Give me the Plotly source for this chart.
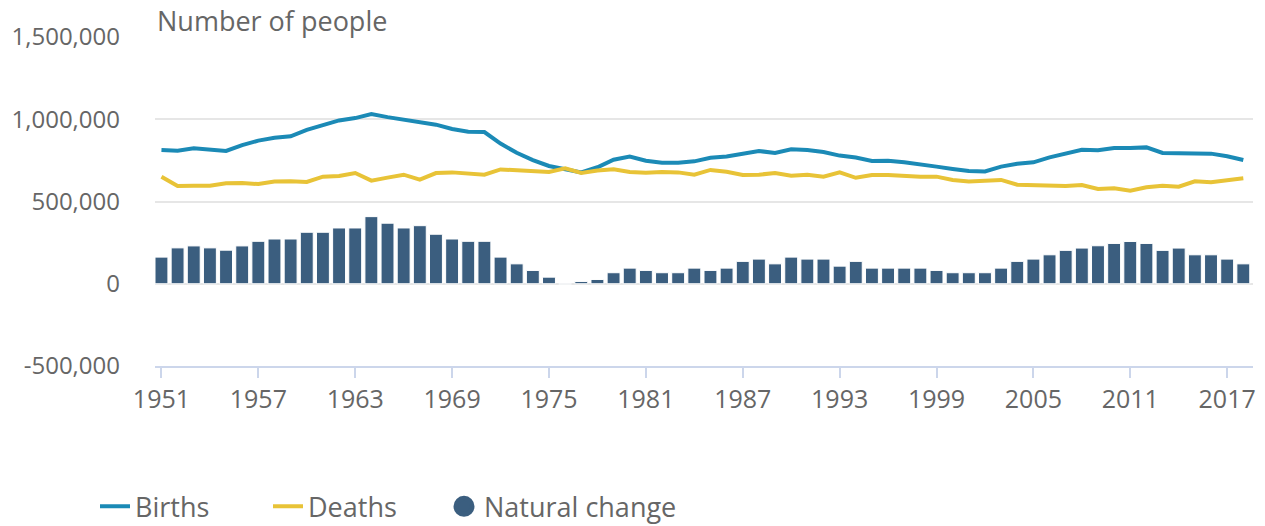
import plotly.graph_objects as go

years = list(range(1951, 2019))

births = [
    813000, 809000, 823000, 813000, 807000, 843000, 870000, 888000, 896000, 935000,
    963000, 993000, 1007000, 1032000, 1013000, 997000, 981000, 967000, 941000, 924000,
    922000, 852000, 796000, 752000, 716000, 698000, 677000, 708000, 754000, 773000,
    748000, 736000, 736000, 744000, 766000, 773000, 793000, 807000, 795000, 817000,
    813000, 801000, 779000, 767000, 746000, 748000, 738000, 728000, 712000, 698000,
    685000, 683000, 712000, 730000, 738000, 768000, 793000, 815000, 811000, 825000,
    825000, 829000, 795000, 793000, 793000, 791000, 775000, 752000,
]

deaths = [
    651000, 594000, 596000, 596000, 611000, 613000, 606000, 621000, 623000, 619000,
    651000, 655000, 673000, 627000, 645000, 663000, 633000, 673000, 677000, 673000,
    663000, 695000, 690000, 686000, 679000, 702000, 673000, 688000, 696000, 679000,
    675000, 679000, 677000, 663000, 692000, 681000, 661000, 663000, 673000, 657000,
    663000, 651000, 677000, 644000, 661000, 661000, 655000, 651000, 651000, 631000,
    621000, 623000, 631000, 602000, 600000, 592000, 594000, 600000, 576000, 580000,
    566000, 586000, 596000, 590000, 623000, 617000, 631000, 641000,
]

natural_change = [
    162000, 218000, 230000, 218000, 204000, 230000, 258000, 272000, 272000, 313000,
    313000, 339000, 339000, 408000, 368000, 339000, 353000, 301000, 272000, 258000,
    258000, 162000, 121000, 81000, 40000, -3000, 14000, 26000, 67000, 95000,
    81000, 67000, 67000, 95000, 81000, 95000, 136000, 150000, 121000, 162000,
    150000, 150000, 107000, 136000, 95000, 95000, 95000, 95000, 81000, 67000,
    67000, 67000, 95000, 136000, 150000, 176000, 203000, 217000, 231000, 245000,
    257000, 245000, 203000, 217000, 176000, 176000, 150000, 121000,
]

x_ticks = list(range(1951, 2019, 6))
y_ticks = [-500000, 0, 500000, 1000000, 1500000]
y_tick_labels = ["-500,000", "0", "500,000", "1,000,000", "1,500,000"]

BIRTHS_C = "#1b8ab6"
DEATHS_C = "#e8c337"
NAT_C = "#3b5e7f"
TEXT_C = "#666666"
FONT = "Open Sans"

fig = go.Figure()

fig.add_trace(go.Bar(
    x=years, y=natural_change, name="Natural change",
    marker=dict(color=NAT_C, line=dict(color="#ffffff", width=1)),
    showlegend=False, legendgroup="nat",
))
fig.add_trace(go.Scatter(
    x=years, y=births, name="Births", mode="lines",
    line=dict(color=BIRTHS_C, width=4), legend="legend",
))
fig.add_trace(go.Scatter(
    x=years, y=deaths, name="Deaths", mode="lines",
    line=dict(color=DEATHS_C, width=4), legend="legend2",
))
# legend entry for the bars (circle symbol)
fig.add_trace(go.Scatter(
    x=[None], y=[None], name="Natural change", mode="markers",
    marker=dict(color=NAT_C, size=16, symbol="circle", line=dict(color=NAT_C, width=5)),
    legend="legend3", legendgroup="nat",
))

leg_common = dict(
    orientation="h", yanchor="middle", xanchor="left",
    font=dict(family=FONT, size=27, color=TEXT_C),
    bgcolor="rgba(0,0,0,0)", borderwidth=0, y=-0.428,
)
W_PLOT = 1098.0

def lx(px):
    return (px - 155) / W_PLOT

fig.update_layout(
    width=1265, height=526,
    margin=dict(l=155, r=12, t=37, b=160, autoexpand=False),
    paper_bgcolor="white", plot_bgcolor="white",
    bargap=0.2,
    font=dict(family=FONT, color=TEXT_C),
    legend=dict(x=lx(95), **leg_common),
    legend2=dict(x=lx(268), **leg_common),
    legend3=dict(x=lx(444), **leg_common),
    xaxis=dict(
        range=[1950.6, 2018.6], automargin=False,
        tickvals=x_ticks, ticktext=[str(v) for v in x_ticks],
        showgrid=False, zeroline=False,
        showline=True, linecolor="#ccd6eb", linewidth=2,
        ticks="outside", ticklen=10, tickwidth=1.5, tickcolor="#ccd6eb",
        tickfont=dict(family=FONT, size=25, color=TEXT_C),
    ),
    yaxis=dict(
        range=[-500000, 1500000], automargin=False,
        tickvals=y_ticks, ticktext=y_tick_labels,
        showgrid=True, gridcolor="#e6e6e6", gridwidth=1.5,
        zeroline=False, showline=False, ticks="",
        ticklabelstandoff=34,
        tickfont=dict(family=FONT, size=24, color=TEXT_C),
    ),
    annotations=[dict(
        text="Number of people", xref="paper", yref="paper",
        x=0, y=1, xanchor="left", yanchor="middle", yshift=17, showarrow=False,
        font=dict(family=FONT, size=27, color=TEXT_C),
    )],
)

fig.write_html(
    "out.html",
    config={"displayModeBar": False},
    post_script="document.body.style.margin='0';",
)
